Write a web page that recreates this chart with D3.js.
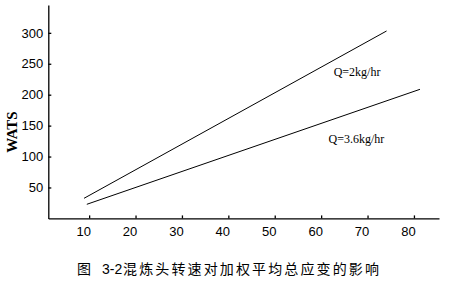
<!DOCTYPE html>
<html><head><meta charset="utf-8">
<script src="https://cdn.jsdelivr.net/npm/d3@7"></script>
<style>
html,body{margin:0;padding:0;background:#fff;}
svg{display:block;}
</style></head>
<body>
<svg id="c" width="454" height="281"></svg>
<script>
// ---- data ----
const xTicks = [10, 20, 30, 40, 50, 60, 70, 80];
const yTicks = [50, 100, 150, 200, 250, 300];
const seriesNames = ["Q=2kg/hr", "Q=3.6kg/hr"];
const q2X = [8.9, 74.1];
const q2Y = [32.5, 303];
const q36X = [9.5, 81.3];
const q36Y = [22.8, 208.7];
const yTitle = "WATS";
const caption = ["图", "3-2", "混炼头转速对加权平均总应变的影响"];

// ---- layout ----
const svg = d3.select("#c");
const x = d3.scaleLinear().domain([1.2, 85.4]).range([48.3, 439]);
const y = d3.scaleLinear().domain([0, 345]).range([218.4, 5]);

const tickFont = "'Liberation Sans', Arial, sans-serif";
const serif = "'Liberation Serif', 'Times New Roman', serif";

// x axis
const gx = svg.append("g").attr("transform", `translate(0,${y(0)})`)
  .call(d3.axisBottom(x).tickValues(xTicks).tickSizeInner(-3).tickSizeOuter(0).tickPadding(8));
gx.selectAll("text").attr("dx", -6).style("font-family", tickFont).style("font-size", "13px").attr("fill", "#000");

// y axis
const gy = svg.append("g").attr("transform", `translate(${x.range()[0]},0)`)
  .call(d3.axisLeft(y).tickValues(yTicks).tickSizeInner(-3).tickSizeOuter(0).tickPadding(5));
gy.selectAll("text").style("font-family", tickFont).style("font-size", "13px").attr("fill", "#000");

svg.selectAll(".domain, .tick line").attr("stroke", "#000").attr("stroke-width", 1.3);

// lines
const line = d3.line().x(d => x(d[0])).y(d => y(d[1]));
const series = [d3.zip(q2X, q2Y), d3.zip(q36X, q36Y)];
svg.selectAll("path.series").data(series).join("path")
  .attr("class", "series")
  .attr("d", line)
  .attr("fill", "none").attr("stroke", "#000").attr("stroke-width", 1);

// line labels (anchored in data space)
const labelAnchors = [[62.7, 237], [61.6, 128.5]];
svg.selectAll("text.lab").data(seriesNames).join("text")
  .attr("class", "lab")
  .attr("x", (d, i) => x(labelAnchors[i][0]))
  .attr("y", (d, i) => y(labelAnchors[i][1]))
  .attr("dy", "0.35em")
  .style("font-family", serif).style("font-size", "12px")
  .text(d => d);

// y title
svg.append("text")
  .attr("transform", "translate(12,132) rotate(-90)")
  .attr("text-anchor", "middle").attr("dy", "0.35em")
  .style("font-family", serif).style("font-size", "15px").style("font-weight", "bold")
  .text(yTitle);

// caption
const cap = svg.append("text").attr("y", 274)
  .style("font-family", "'Noto Sans CJK SC', sans-serif").style("font-size", "14px").attr("fill", "#000");
cap.append("tspan").attr("x", 77).text(caption[0]);
cap.append("tspan").attr("x", 102).style("font-family", tickFont).style("font-size", "14px").text(caption[1]);
cap.append("tspan").attr("x", 123).attr("textLength", 256).attr("lengthAdjust", "spacing").text(caption[2]);
</script>
</body></html>
